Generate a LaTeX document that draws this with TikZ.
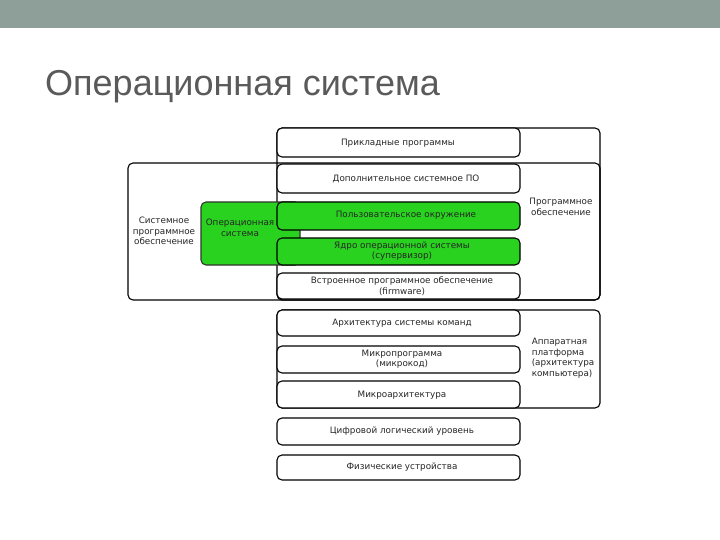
\documentclass[tikz,border=0pt]{standalone}
\usepackage{fontspec}
\setmainfont{DejaVu Sans}
\newfontfamily\titlefont{Liberation Sans}
\begin{document}
\begin{tikzpicture}[x=1pt,y=-1pt,
  lay/.style={draw=black,line width=1.1pt,rounded corners=5pt,fill=white},
  grn/.style={lay,fill={rgb,255:red,40;green,210;blue,30}},
  lbl/.style={font=\fontsize{8.8}{10.5}\selectfont,align=center,text=black!85}]
\useasboundingbox (0,0) rectangle (720,540);
\fill[white] (0,0) rectangle (720,540);
\fill[color={rgb,255:red,142;green,158;blue,153}] (0,0) rectangle (720,28);
\node[anchor=base west,font=\titlefont\fontsize{36}{42}\selectfont,text={rgb,255:red,90;green,90;blue,90},inner sep=0] (title) at (45,96) {Операционная система};
% outer frames
\draw[lay,fill=none] (128,163) rectangle (600,300);
\draw[lay,fill=none] (277,128) rectangle (600,300);
\draw[grn,draw=black!80] (201,202) rectangle (300,265);
\node[lbl] (sys) at (164,231) {Системное\\программное\\обеспечение};
\node[lbl] (os) at (240,228) {Операционная\\система};
\node[lbl] (prog) at (561,207) {Программное\\обеспечение};
% layers
\draw[lay] (277,128) rectangle (520,157); \node[lbl] (l1) at (398,143) {Прикладные программы};
\draw[lay] (277,164) rectangle (520,193); \node[lbl] (l2) at (406,179) {Дополнительное системное ПО};
\draw[grn] (277,202) rectangle (520,230); \node[lbl] (l3) at (406,215) {Пользовательское окружение};
\draw[grn] (277,238) rectangle (520,265); \node[lbl] (l4) at (402,251) {Ядро операционной системы\\(супервизор)};
\draw[lay] (277,273) rectangle (520,299); \node[lbl] (l5) at (402,286) {Встроенное программное обеспечение\\(firmware)};
% hardware
\draw[lay,fill=none] (277,310) rectangle (600,408);
\node[lbl,align=left] (hw) at (563,358) {Аппаратная\\платформа\\(архитектура\\компьютера)};
\draw[lay] (277,310) rectangle (520,336); \node[lbl] (h1) at (402,323) {Архитектура системы команд};
\draw[lay] (277,346) rectangle (520,373); \node[lbl] (h2) at (402,359) {Микропрограмма\\(микрокод)};
\draw[lay] (277,381) rectangle (520,408); \node[lbl] (h3) at (402,395) {Микроархитектура};
\draw[lay] (277,418) rectangle (520,445); \node[lbl] (h4) at (402,431) {Цифровой логический уровень};
\draw[lay] (277,455) rectangle (520,480); \node[lbl] (h5) at (402,467) {Физические устройства};
\end{tikzpicture}
\end{document}
